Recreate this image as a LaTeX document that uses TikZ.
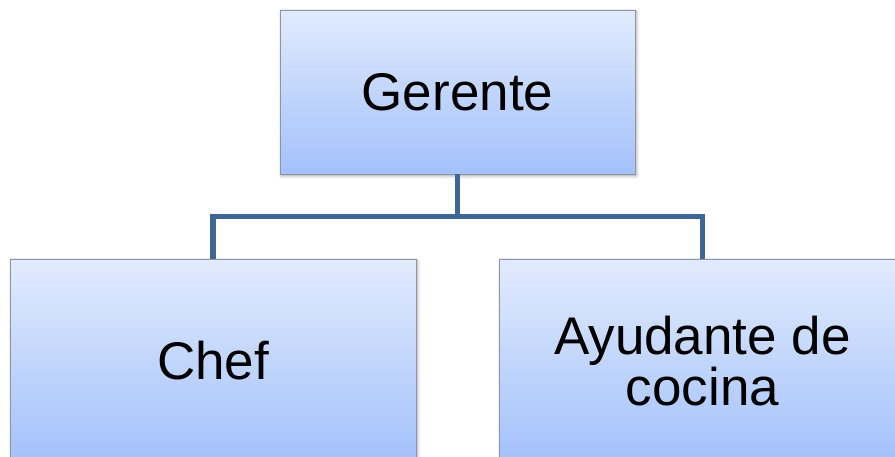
\documentclass[tikz,border=0pt]{standalone}
\usepackage{fontspec}
\setmainfont{Liberation Sans}
\usetikzlibrary{shadows.blur}
\definecolor{boxtop}{HTML}{E1EBFD}
\definecolor{boxbottom}{HTML}{A3C1FB}
\definecolor{boxline}{HTML}{8E959E}
\definecolor{linkblue}{HTML}{3F6796}
\tikzset{
  orgbox/.style={rectangle, draw=boxline, line width=0.9pt, top color=boxtop, bottom color=boxbottom,
    blur shadow={shadow xshift=1.5pt, shadow yshift=-2pt, shadow blur radius=3pt, shadow opacity=35},
    font=\fontsize{53}{42}\selectfont, align=center, text=black, inner sep=0pt, outer sep=0pt},
  link/.style={draw=linkblue, line width=5.5pt, line join=miter}
}
\begin{document}
\begin{tikzpicture}[x=1pt,y=1pt]
  \useasboundingbox (0,0) rectangle (895,457);
  \begin{scope}
    \clip (0,0) rectangle (895,457);
    \node[orgbox, minimum width=355pt, minimum height=164pt] (gerente) at (457.5,365) {Gerente};
    \node[orgbox, minimum width=406pt, minimum height=204pt] (chef) at (213,96) {Chef};
    \node[orgbox, minimum width=407pt, minimum height=204pt] (ayudante) at (702.5,96) {Ayudante de\\cocina};
    % branch point below the manager
    \coordinate (hub) at ([yshift=-42.5pt]gerente.south);
    \draw[link] (gerente.south) -- (hub);
    \draw[link] (chef.north) -- (chef.north |- hub) -- (ayudante.north |- hub) -- (ayudante.north);
  \end{scope}
\end{tikzpicture}
\end{document}
